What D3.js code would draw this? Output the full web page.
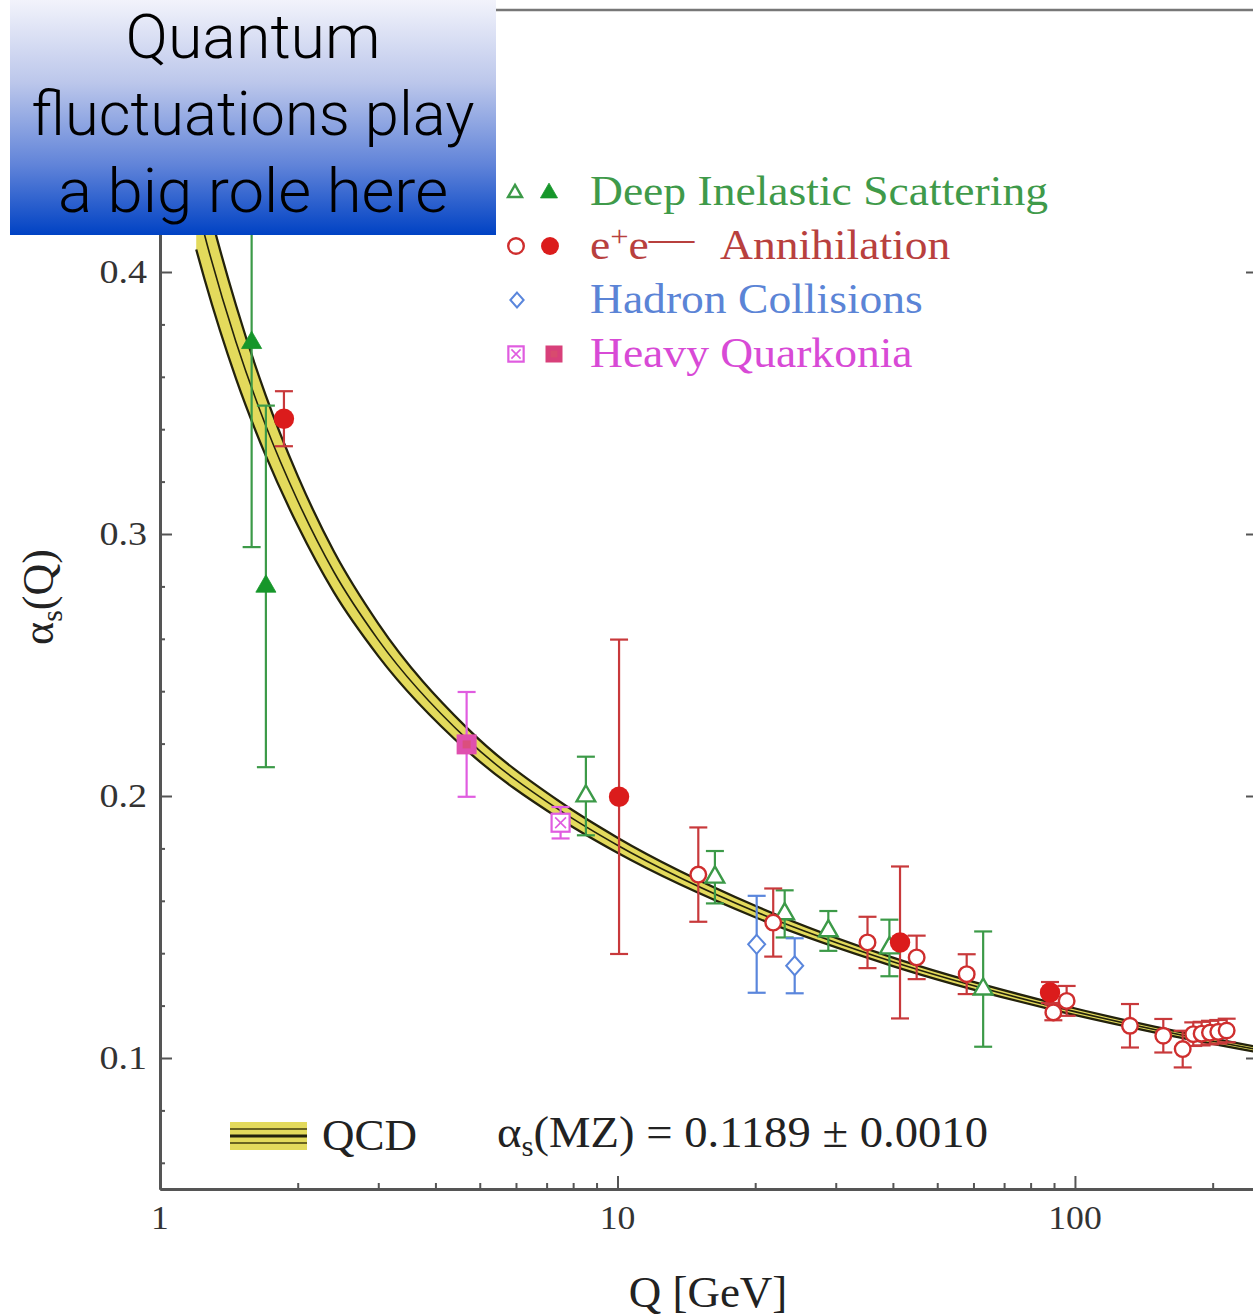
<!DOCTYPE html>
<html>
<head>
<meta charset="utf-8">
<script src="https://cdn.jsdelivr.net/npm/d3@7"></script>
<style>
  html, body { margin: 0; padding: 0; background: #fff; }
  svg { display: block; }
</style>
</head>
<body>
<div id="chart"></div>
<script>
// alpha_s(Q) running coupling: world summary of measurements + QCD band

// QCD band: Q, central alpha_s, half-width
const QCD_Q   = [1.2, 1.25, 1.466, 1.7, 2.0, 2.4, 3.0, 4.68, 7.5, 10, 20, 40, 90, 150, 260];
const QCD_A   = [0.4266, 0.4145, 0.3733, 0.3417, 0.3127, 0.2855, 0.2596, 0.2218, 0.1944, 0.1812, 0.1559, 0.1367, 0.1196, 0.1108, 0.1027];
const QCD_ERR = [0.018, 0.017, 0.014, 0.0115, 0.0095, 0.0078, 0.0062, 0.0043, 0.0033, 0.0029, 0.0022, 0.0016, 0.0013, 0.0011, 0.0010];

// Deep inelastic scattering
const DIS_FILLED_Q = [1.586, 1.704];
const DIS_FILLED_A = [0.373, 0.280];
const DIS_FILLED_E = [0.078, 0.069];
const DIS_OPEN_Q = [8.53, 16.33, 23.2, 28.9, 39.3, 63.0];
const DIS_OPEN_A = [0.200, 0.169, 0.155, 0.1485, 0.142, 0.1263];
const DIS_OPEN_E = [0.015, 0.010, 0.009, 0.0076, 0.0108, 0.022];

// e+e- annihilation
const EE_FILLED_Q = [1.866, 10.08, 41.46, 88.2];
const EE_FILLED_A = [0.344, 0.1997, 0.1441, 0.125];
const EE_FILLED_E = [0.0105, 0.060, 0.029, 0.004];
const EE_OPEN_Q = [15.02, 21.9, 35.2, 45.08, 57.99, 89.7, 95.9, 131.9, 156, 172, 181.4, 189.2, 197.3, 205.7, 214.6];
const EE_OPEN_A = [0.170, 0.1517, 0.1441, 0.1384, 0.132, 0.1174, 0.1218, 0.1123, 0.1085, 0.1034, 0.1091, 0.1093, 0.1097, 0.1100, 0.1105];
const EE_OPEN_E = [0.018, 0.013, 0.0098, 0.0083, 0.0076, 0.003, 0.0057, 0.0083, 0.0064, 0.007, 0.0045, 0.0045, 0.0045, 0.0045, 0.0045];

// hadron collisions
const HAD_Q = [20.15, 24.4];
const HAD_A = [0.1434, 0.1352];
const HAD_E = [0.0185, 0.0105];

// heavy quarkonia
const HQ_FILLED_Q = [4.68];
const HQ_FILLED_A = [0.2197];
const HQ_FILLED_E = [0.020];
const HQ_OPEN_Q = [7.51];
const HQ_OPEN_A = [0.1898];
const HQ_OPEN_E = [0.006];

// axes
const X_MAJOR = [1, 10, 100];
const X_MAJOR_LABELS = ["1", "10", "100"];
const X_MINOR = [2, 3, 4, 5, 6, 7, 8, 9, 20, 30, 40, 50, 60, 70, 80, 90, 200];
const Y_MAJOR = [0.1, 0.2, 0.3, 0.4, 0.5];
const Y_LABELED = [0.1, 0.2, 0.3, 0.4];
const Y_LABELS = ["0.1", "0.2", "0.3", "0.4"];
const Y_MINOR = [0.06, 0.08, 0.12, 0.14, 0.16, 0.18, 0.22, 0.24, 0.26, 0.28, 0.32, 0.34, 0.36, 0.38, 0.42, 0.44, 0.46, 0.48];

const LEGEND_LABELS = ["Deep Inelastic Scattering", "Annihilation", "Hadron Collisions", "Heavy Quarkonia"];
const OVERLAY_LINES = ["Quantum", "fluctuations play", "a big role here"];

const C = {
  green: "#16962a", greenLine: "#3c9a48", greenText: "#3f9a4a",
  red: "#db1c1c", redLine: "#c8393b", redText: "#b8403e",
  blue: "#5a86dc", blueText: "#5b84d6",
  mag: "#e05ce0", magFill: "#df4fae", magText: "#d84ad6",
  axis: "#555",
  bandFill: "#e3da5c", bandLine: "#23220c"
};
const SERIF = "'Liberation Serif', 'Times New Roman', serif";

const W = 1253, H = 1316;
const x = d3.scaleLog().domain([1, 250]).range([160, 1257]);
const y = d3.scaleLinear().domain([0.05, 0.5]).range([1189, 10]);

const svg = d3.select('#chart').append('svg')
  .attr('width', W).attr('height', H)
  .attr('font-family', SERIF);
svg.append('rect').attr('width', W).attr('height', H).attr('fill', '#fff');

const defs = svg.append('defs');
defs.append('clipPath').attr('id', 'plotclip')
  .append('rect').attr('x', x(1)).attr('y', y(0.5))
  .attr('width', x(250) - x(1)).attr('height', y(0.05) - y(0.5));
const grad = defs.append('linearGradient').attr('id', 'boxgrad')
  .attr('x1', 0).attr('y1', 0).attr('x2', 0).attr('y2', 1);
[[0, '#f2f3fb'], [0.35, '#bcc7eb'], [0.7, '#6184d9'], [1, '#0042c4']].forEach(([o, c]) => {
  grad.append('stop').attr('offset', o).attr('stop-color', c);
});

// ---- QCD band
const band = QCD_Q.map((q, i) => ({ q, a: QCD_A[i], e: QCD_ERR[i] }));
const plot = svg.append('g').attr('clip-path', 'url(#plotclip)');

plot.append('path').datum(band)
  .attr('d', d3.area().curve(d3.curveMonotoneX)
    .x(d => x(d.q)).y0(d => y(d.a - d.e)).y1(d => y(d.a + d.e)))
  .attr('fill', C.bandFill);
[d => d.a + d.e, d => d.a - d.e, d => d.a].forEach((fn, i) => {
  plot.append('path').datum(band)
    .attr('d', d3.line().curve(d3.curveMonotoneX).x(d => x(d.q)).y(d => y(fn(d))))
    .attr('fill', 'none').attr('stroke', C.bandLine)
    .attr('stroke-width', i < 2 ? 2.3 : 1.6);
});

// ---- axes
function styleAxis(g, w) {
  g.select('.domain').attr('stroke', C.axis).attr('stroke-width', w);
  g.selectAll('.tick line').attr('stroke', C.axis).attr('stroke-width', 2);
}
const gx = svg.append('g').attr('transform', `translate(0,${y(0.05)})`);
gx.call(d3.axisBottom(x).tickValues(X_MINOR).tickSize(-6).tickSizeOuter(0).tickFormat(''));
styleAxis(gx, 3);
const gx2 = svg.append('g').attr('transform', `translate(0,${y(0.05)})`);
gx2.call(d3.axisBottom(x).tickValues(X_MAJOR).tickSize(-13).tickSizeOuter(0).tickFormat(''));
styleAxis(gx2, 3);

const gy = svg.append('g').attr('transform', `translate(${x(1)},0)`);
gy.call(d3.axisLeft(y).tickValues(Y_MINOR).tickSize(-5).tickSizeOuter(0).tickFormat(''));
styleAxis(gy, 3);
const gy2 = svg.append('g').attr('transform', `translate(${x(1)},0)`);
gy2.call(d3.axisLeft(y).tickValues(Y_MAJOR).tickSize(-12).tickSizeOuter(0).tickFormat(''));
styleAxis(gy2, 3);

const gr = svg.append('g').attr('transform', `translate(${x(250)},0)`);
gr.call(d3.axisRight(y).tickValues(Y_LABELED).tickSize(-11).tickSizeOuter(0).tickFormat(''));
styleAxis(gr, 3);

svg.append('line')
  .attr('x1', x(1)).attr('x2', x(250)).attr('y1', y(0.5)).attr('y2', y(0.5))
  .attr('stroke', '#777').attr('stroke-width', 2.5);

// tick labels (the original type is a bit stretched horizontally)
function stretchText(parent, str, px, py, size, sx, anchor, fill) {
  return parent.append('text')
    .attr('transform', `translate(${px},${py}) scale(${sx},1)`)
    .attr('text-anchor', anchor || 'start')
    .attr('font-size', size)
    .attr('fill', fill || '#333')
    .text(str);
}
X_MAJOR.forEach((v, i) => stretchText(svg, X_MAJOR_LABELS[i], x(v), 1229, 34, 1.05, 'middle', '#333'));
Y_LABELED.forEach((v, i) => stretchText(svg, Y_LABELS[i], 147, y(v) + 11, 34, 1.12, 'end', '#333'));

// axis titles
svg.append('text')
  .attr('x', 708).attr('y', 1307).attr('text-anchor', 'middle')
  .attr('font-size', 45).attr('fill', '#222')
  .text('Q [GeV]');
const yt = svg.append('text')
  .attr('transform', 'translate(53,597) rotate(-90)')
  .attr('text-anchor', 'middle').attr('font-size', 44).attr('fill', '#222');
yt.append('tspan').text('α');
yt.append('tspan').attr('font-size', 30).attr('dy', 9).text('s');
yt.append('tspan').attr('dy', -9).text('(Q)');

// ---- data points
const dataLayer = svg.append('g');
function rows(qs, as, es) { return qs.map((q, i) => ({ q, a: as[i], e: es[i] })); }

const SERIES = [
  { d: rows(DIS_FILLED_Q, DIS_FILLED_A, DIS_FILLED_E), shape: 'triFilled', col: C.green, line: C.greenLine },
  { d: rows(DIS_OPEN_Q, DIS_OPEN_A, DIS_OPEN_E), shape: 'triOpen', col: C.greenLine, line: C.greenLine },
  { d: rows(HQ_FILLED_Q, HQ_FILLED_A, HQ_FILLED_E), shape: 'sqFilled', col: C.magFill, line: C.mag },
  { d: rows(HQ_OPEN_Q, HQ_OPEN_A, HQ_OPEN_E), shape: 'sqOpenX', col: C.mag, line: C.mag },
  { d: rows(HAD_Q, HAD_A, HAD_E), shape: 'diamond', col: C.blue, line: C.blue },
  { d: rows(EE_OPEN_Q, EE_OPEN_A, EE_OPEN_E), shape: 'circOpen', col: "#cf2e2e", line: C.redLine },
  { d: rows(EE_FILLED_Q, EE_FILLED_A, EE_FILLED_E), shape: 'circFilled', col: C.red, line: C.redLine },
];

// error bars first
SERIES.forEach(s => {
  s.d.forEach(p => {
    const cx = x(p.q), y1 = y(p.a + p.e), y2 = y(p.a - p.e);
    const g = dataLayer.append('g').attr('stroke', s.line).attr('stroke-width', 2.2).attr('fill', 'none');
    g.append('line').attr('x1', cx).attr('x2', cx).attr('y1', y1).attr('y2', y2);
    g.append('line').attr('x1', cx - 9).attr('x2', cx + 9).attr('y1', y1).attr('y2', y1);
    g.append('line').attr('x1', cx - 9).attr('x2', cx + 9).attr('y1', y2).attr('y2', y2);
  });
});

function marker(parent, shape, cx, cy, col, k) {
  k = k || 1;
  const g = parent.append('g').attr('transform', `translate(${cx},${cy})`);
  if (shape === 'triFilled' || shape === 'triOpen') {
    const filled = shape === 'triFilled';
    g.append('path')
      .attr('d', d3.symbol().type(d3.symbolTriangle).size((filled ? 175 : 150) * k * k)())
      .attr('fill', filled ? col : '#fff')
      .attr('stroke', col).attr('stroke-width', filled ? 0.8 : 2.4);
  } else if (shape === 'circOpen') {
    g.append('circle').attr('r', 7.8 * k).attr('fill', '#fff').attr('stroke', col).attr('stroke-width', 2.4);
  } else if (shape === 'circFilled') {
    g.append('circle').attr('r', 10.2 * k).attr('fill', col);
  } else if (shape === 'diamond') {
    const a = 9.5 * k, b = 8.5 * k;
    g.append('path').attr('d', `M0,${-a}L${b},0L0,${a}L${-b},0Z`)
      .attr('fill', '#fff').attr('stroke', col).attr('stroke-width', 2);
  } else if (shape === 'sqOpenX') {
    const h = 9 * k;
    g.append('rect').attr('x', -h).attr('y', -h).attr('width', 2 * h).attr('height', 2 * h)
      .attr('fill', '#fff').attr('stroke', col).attr('stroke-width', 2.2);
    g.append('path').attr('d', `M${-h * 0.6},${-h * 0.6}L${h * 0.6},${h * 0.6}M${h * 0.6},${-h * 0.6}L${-h * 0.6},${h * 0.6}`)
      .attr('stroke', col).attr('stroke-width', 1.6);
  } else if (shape === 'sqFilled') {
    const h = 10 * k;
    g.append('rect').attr('x', -h).attr('y', -h).attr('width', 2 * h).attr('height', 2 * h)
      .attr('fill', col);
    g.append('rect').attr('x', -h * 0.4).attr('y', -h * 0.4).attr('width', h * 0.8).attr('height', h * 0.8)
      .attr('fill', '#d9506a').attr('opacity', 0.7);
  }
  return g;
}

SERIES.forEach(s => {
  s.d.forEach(p => marker(dataLayer, s.shape, x(p.q), y(p.a), s.col));
});

// ---- legend (top)
const lg = svg.append('g');
const LEG_Y = [192, 246, 300, 354];
marker(lg, 'triOpen', 515, LEG_Y[0] + 1, C.greenLine, 0.75);
marker(lg, 'triFilled', 549, LEG_Y[0] + 1, C.green, 0.85);
marker(lg, 'circOpen', 516, LEG_Y[1], "#cf2e2e", 1.0);
marker(lg, 'circFilled', 550, LEG_Y[1], C.red, 0.88);
marker(lg, 'diamond', 517, LEG_Y[2], C.blue, 0.78);
marker(lg, 'sqOpenX', 516, LEG_Y[3], C.mag, 0.85);
marker(lg, 'sqFilled', 554, LEG_Y[3], "#d8407a", 0.85);

const LEG_FS = 42, LEG_SX = 1.085;
stretchText(lg, LEGEND_LABELS[0], 590, LEG_Y[0] + 13, LEG_FS, LEG_SX, 'start', C.greenText);
const ee = lg.append('text')
  .attr('transform', `translate(590,${LEG_Y[1] + 13}) scale(${LEG_SX},1)`)
  .attr('font-size', LEG_FS).attr('fill', C.redText);
ee.append('tspan').text('e');
ee.append('tspan').attr('dy', -13).attr('font-size', 30).text('+');
ee.append('tspan').attr('dy', 13).text('e');
ee.append('tspan').attr('dy', -7).text('—');
stretchText(lg, LEGEND_LABELS[1], 720, LEG_Y[1] + 13, LEG_FS, LEG_SX, 'start', C.redText);
stretchText(lg, LEGEND_LABELS[2], 590, LEG_Y[2] + 13, LEG_FS, LEG_SX, 'start', C.blueText);
stretchText(lg, LEGEND_LABELS[3], 590, LEG_Y[3] + 13, LEG_FS, LEG_SX, 'start', C.magText);

// ---- QCD legend (bottom)
const qg = svg.append('g');
qg.append('rect').attr('x', 230).attr('y', 1122).attr('width', 77).attr('height', 28).attr('fill', C.bandFill);
[[1129, 2, '#6a6420'], [1136, 3, C.bandLine], [1143, 2, '#6a6420']].forEach(([yy, sw, c]) => {
  qg.append('line').attr('x1', 230).attr('x2', 307).attr('y1', yy).attr('y2', yy)
    .attr('stroke', c).attr('stroke-width', sw);
});
qg.append('text').attr('x', 322).attr('y', 1150).attr('font-size', 45).attr('fill', '#222').text('QCD');
const fm = qg.append('text').attr('x', 497).attr('y', 1147).attr('font-size', 45).attr('fill', '#222')
  .attr('textLength', 491).attr('lengthAdjust', 'spacingAndGlyphs');
fm.append('tspan').text('α');
fm.append('tspan').attr('font-size', 30).attr('dy', 9).text('s');
fm.append('tspan').attr('dy', -9).text('(MZ) = 0.1189 ± 0.0010');

// ---- overlay call-out box
const box = svg.append('g');
box.append('rect').attr('x', 10).attr('y', 0).attr('width', 486).attr('height', 235)
  .attr('fill', 'url(#boxgrad)');
const OV_BASE = [58, 135, 212];
const OV_LEN = [255, 443, 390];
OVERLAY_LINES.forEach((s, i) => {
  box.append('text')
    .attr('x', 253).attr('y', OV_BASE[i]).attr('text-anchor', 'middle')
    .attr('font-family', "Roboto, 'Liberation Sans', Arial, sans-serif")
    .attr('font-weight', 300).attr('font-size', 62).attr('fill', '#000')
    .attr('textLength', OV_LEN[i]).attr('lengthAdjust', 'spacingAndGlyphs')
    .text(s);
});
</script>
</body>
</html>
